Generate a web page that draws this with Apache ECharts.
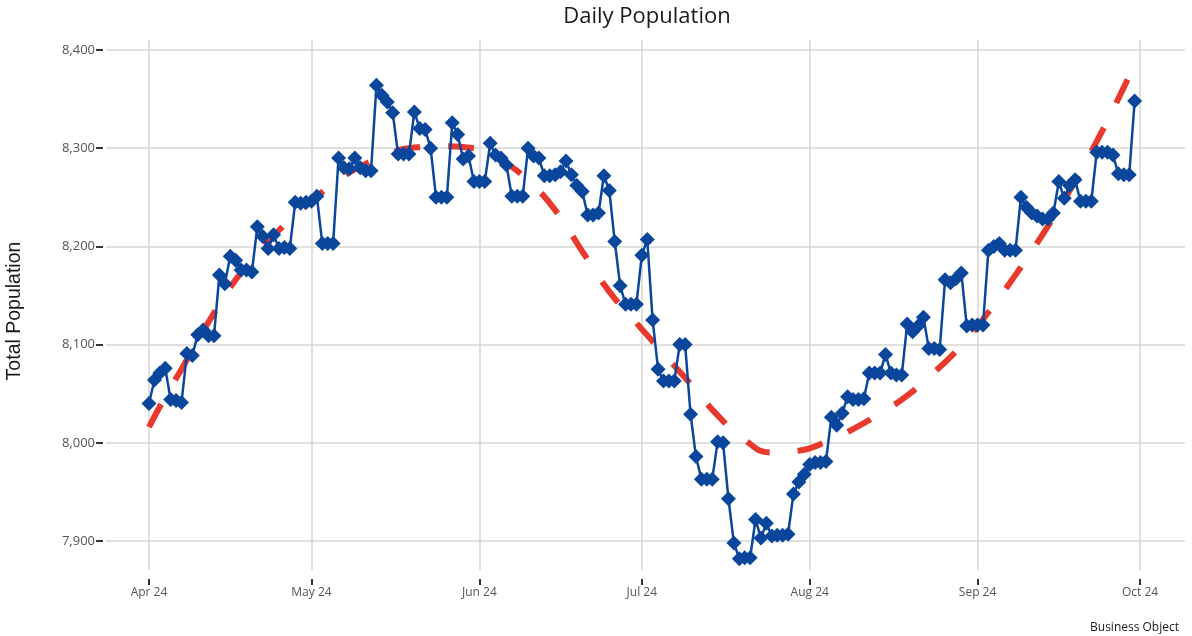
<!DOCTYPE html>
<html>
<head>
<meta charset="utf-8">
<script src="https://cdn.jsdelivr.net/npm/echarts@6/dist/echarts.min.js"></script>
<style>html,body{margin:0;padding:0;background:#fff}#c{width:1192px;height:636px}</style>
</head>
<body>
<div id="c"></div>
<script>
// Daily data starts 1 Apr 2024, one value per day through 30 Sep 2024
const startDate = '2024-04-01';
const population = [
 8040,8064,8071,8076,8044,8043,8041,8091,8089,8110,
 8115,8109,8109,8171,8162,8190,8186,8176,8176,8174,
 8220,8210,8198,8212,8198,8199,8198,8245,8244,8245,
 8246,8251,8203,8203,8203,8290,8280,8279,8290,8280,
 8277,8277,8364,8354,8347,8336,8294,8294,8294,8337,
 8320,8319,8300,8250,8250,8250,8326,8314,8289,8292,
 8266,8266,8266,8305,8293,8290,8283,8251,8251,8251,
 8300,8292,8290,8272,8272,8273,8276,8287,8273,8262,
 8256,8232,8232,8234,8272,8257,8205,8160,8141,8141,
 8141,8191,8207,8125,8075,8063,8063,8063,8100,8100,
 8029,7986,7963,7963,7963,8001,8000,7943,7898,7882,
 7883,7883,7922,7903,7918,7905,7906,7906,7907,7948,
 7960,7968,7978,7980,7980,7981,8026,8018,8030,8047,
 8044,8044,8045,8071,8071,8071,8090,8071,8069,8069,
 8121,8113,8119,8128,8096,8096,8095,8166,8163,8167,
 8173,8119,8120,8120,8120,8196,8200,8203,8196,8196,
 8196,8250,8240,8234,8231,8228,8228,8234,8266,8249,
 8262,8268,8246,8246,8246,8296,8296,8296,8293,8274,
 8273,8273,8348
];
// Trend line at these day offsets from startDate
const trendDays   = [0,3,6,11,16,20,25,30,35,40,45,50,55,60,65,70,75,80,85,90,95,100,105,110,115,120,125,130,135,140,145,150,155,160,165,170,175,180,182];
const trendValues = [8016,8047,8075,8123,8166,8191,8222,8246,8268,8284,8296,8301,8302,8300,8288,8267,8237,8195,8154,8122,8091,8060,8028,8003,7990,7992,8001,8014,8030,8048,8072,8099,8133,8171,8212,8257,8307,8362,8387];
// Axis ticks
const monthTicks = ['2024-04-01','2024-05-01','2024-06-01','2024-07-01','2024-08-01','2024-09-01','2024-10-01'];
const monthLabels = ['Apr 24','May 24','Jun 24','Jul 24','Aug 24','Sep 24','Oct 24'];
const yTicks = [7900,8000,8100,8200,8300,8400];

const DAY = 86400000;
const t0 = Date.parse(startDate + 'T00:00:00Z');
const dayOf = s => Math.round((Date.parse(s + 'T00:00:00Z') - t0) / DAY);
const popData = population.map((v, i) => [i, v]);
const trendData = trendDays.map((d, i) => [d, trendValues[i]]);
const xTickVals = monthTicks.map(dayOf);
const xLabelOf = {};
xTickVals.forEach((d, i) => { xLabelOf[d] = monthLabels[i]; });

const chart = echarts.init(document.getElementById('c'), null, {renderer: 'canvas'});
chart.setOption({
  animation: false,
  backgroundColor: '#ffffff',
  title: [{
    text: 'Daily Population',
    left: 642, top: 1, textAlign: 'center',
    textStyle: {fontFamily: 'Open Sans', fontSize: 22, fontWeight: 'normal', color: '#1a1a1a'}
  }, {
    text: 'Business Object',
    right: 8, top: 617,
    textStyle: {fontFamily: 'Open Sans', fontSize: 12, fontWeight: 'normal', color: '#1a1a1a'}
  }],
  graphic: [{
    type: 'text', x: 15, y: 311, rotation: Math.PI / 2,
    style: {text: 'Total Population', fontFamily: 'Liberation Sans', fontSize: 19.5, fill: '#1a1a1a', align: 'center', verticalAlign: 'middle'}
  }],
  grid: {left: 106, right: 7, top: 40, bottom: 66, containLabel: false},
  xAxis: {
    type: 'value',
    min: -7.94,
    max: 191.3,
    offset: 9,
    axisLine: {show: false, onZero: false},
    axisTick: {show: true, length: 6, customValues: xTickVals, lineStyle: {color: '#333', width: 2}},
    axisLabel: {
      customValues: xTickVals, margin: 8, fontFamily: 'Open Sans', fontSize: 12, color: '#555',
      formatter: v => xLabelOf[Math.round(v)] || ''
    },
    splitLine: {show: true, lineStyle: {color: '#d6d6d6', width: 1.5}}
  },
  yAxis: {
    type: 'value',
    min: 7870.5, max: 8410.2,
    offset: 3,
    axisLine: {show: false, onZero: false},
    axisTick: {show: true, length: 7, customValues: yTicks, lineStyle: {color: '#333', width: 2}},
    axisLabel: {
      customValues: yTicks, margin: 8, fontFamily: 'Open Sans', fontSize: 13, color: '#555',
      formatter: v => Number(v).toLocaleString('en-US')
    },
    splitLine: {show: true, lineStyle: {color: '#d6d6d6', width: 1.5}}
  },
  series: [{
    name: 'Trend', type: 'line', data: trendData, smooth: true, symbol: 'none', z: 1,
    lineStyle: {color: '#e8392c', width: 6, type: [26, 28], cap: 'butt'}
  }, {
    name: 'Population', type: 'line', data: popData, z: 2,
    symbol: 'diamond', symbolSize: 15,
    itemStyle: {color: '#0a469c'},
    lineStyle: {color: '#0a469c', width: 2.5}
  }]
});
</script>
</body>
</html>
